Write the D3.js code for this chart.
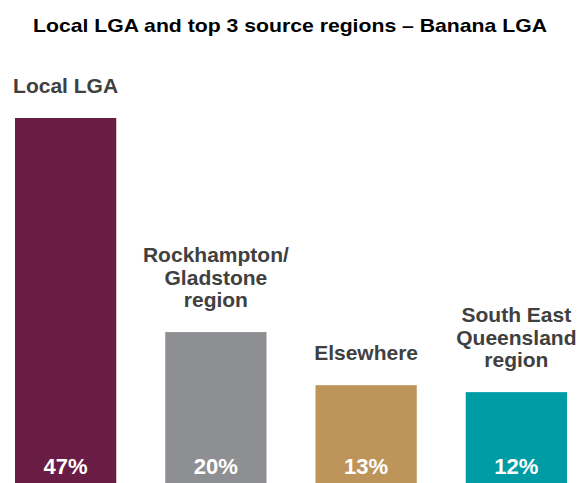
<!DOCTYPE html>
<html>
<head>
<meta charset="utf-8">
<script src="https://cdn.jsdelivr.net/npm/d3@7"></script>
<style>
  body { margin: 0; background: #fff; }
  svg { display: block; font-family: 'Liberation Sans', Arial, sans-serif; }
</style>
</head>
<body>
<svg id="chart"></svg>
<script>
var width = 579
  , height = 483

var categories = ['Local LGA', 'Rockhampton/ Gladstone region', 'Elsewhere', 'South East Queensland region']
var labelLines = [['Local LGA'], ['Rockhampton/', 'Gladstone', 'region'], ['Elsewhere'], ['South East', 'Queensland', 'region']]
var values = [47.4, 19.6, 12.7, 11.8]
var colors = ['#6a1d44', '#8e8f92', '#bd955b', '#009ca6']
var title = 'Local LGA and top 3 source regions \u2013 Banana LGA'

var data = categories.map(function(c, i) {
  return { cat: c, lines: labelLines[i], value: values[i], color: colors[i] }
})

var svg = d3.select('#chart').attr('width', width).attr('height', height)

var x = d3.scaleBand()
  .domain(categories)
  .range([15, 567])
  .paddingInner(0.326)
  .paddingOuter(0)

var y = d3.scaleLinear()
  .domain([0, d3.max(values)])
  .range([height, 118])

svg.append('text')
  .attr('x', 290)
  .attr('y', 32)
  .attr('text-anchor', 'middle')
  .attr('textLength', 514)
  .attr('lengthAdjust', 'spacingAndGlyphs')
  .style('font-size', '19px')
  .style('font-weight', 'bold')
  .style('fill', '#000')
  .text(title)

var g = svg.selectAll('g.bar').data(data).enter().append('g').attr('class', 'bar')

g.append('rect')
  .attr('x', function(d) { return x(d.cat) })
  .attr('y', function(d) { return y(d.value) })
  .attr('width', x.bandwidth())
  .attr('height', function(d) { return y(0) - y(d.value) })
  .attr('fill', function(d) { return d.color })

// value labels sit near the bottom of each bar
g.append('text')
  .attr('x', function(d) { return x(d.cat) + x.bandwidth() / 2 })
  .attr('y', height - 9)
  .attr('text-anchor', 'middle')
  .style('font-size', '22px')
  .style('font-weight', 'bold')
  .style('fill', '#fff')
  .text(function(d) { return Math.round(d.value) + '%' })

// category labels stacked above the bar
var lineH = 22.5, gap = 25
g.append('text')
  .attr('text-anchor', 'middle')
  .style('font-size', '21px')
  .style('font-weight', 'bold')
  .style('fill', '#404040')
  .each(function(d) {
    var t = d3.select(this)
      , n = d.lines.length
      , cx = x(d.cat) + x.bandwidth() / 2
      , base = y(d.value) - gap - (n - 1) * lineH
    d.lines.forEach(function(l, i) {
      t.append('tspan').attr('x', cx).attr('y', base + i * lineH).text(l)
    })
  })
</script>
</body>
</html>
